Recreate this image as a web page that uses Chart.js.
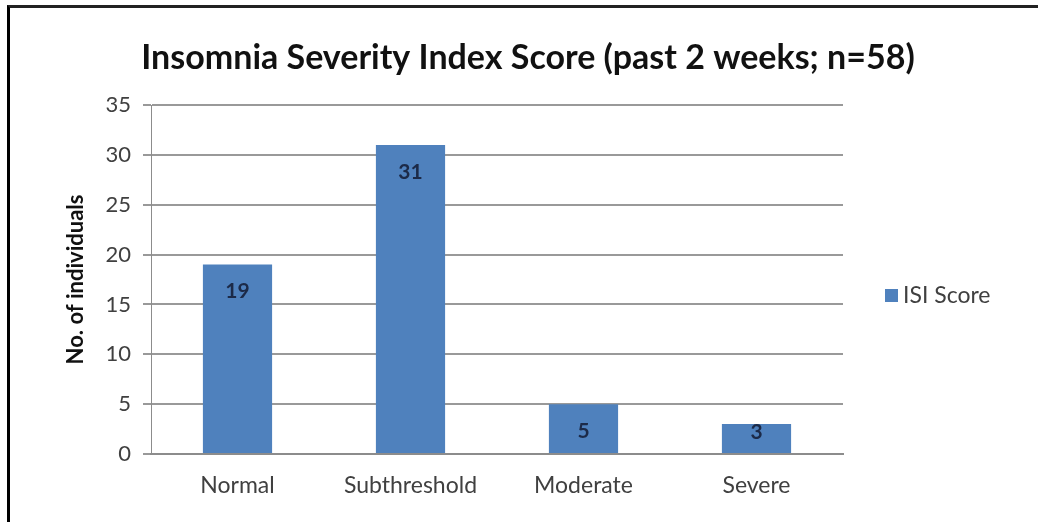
<!DOCTYPE html>
<html>
<head>
<meta charset="utf-8">
<script src="https://cdn.jsdelivr.net/npm/chart.js@4"></script>
<style>
  html, body { margin: 0; padding: 0; background: #fff; }
  #wrap { position: relative; width: 1038px; height: 522px; overflow: hidden; }
  #frame { position: absolute; left: 7px; top: 5px; right: -10px; bottom: -10px;
           border-top: 3px solid #222; border-left: 3px solid #000; pointer-events: none; }
  canvas { position: absolute; left: 0; top: 0; }
</style>
</head>
<body>
<div id="wrap">
  <canvas id="c" width="1038" height="522"></canvas>
  <div id="frame"></div>
</div>
<script>
const chartTitle = 'Insomnia Severity Index Score (past 2 weeks; n=58)';
const categories = ['Normal', 'Subthreshold', 'Moderate', 'Severe'];
const seriesName = 'ISI Score';
const isiScores = [19, 31, 5, 3];
const yTicks = [0, 5, 10, 15, 20, 25, 30, 35];
const yAxisTitle = 'No. of individuals';

const FONT = 'Lato, "Open Sans", sans-serif';
const BAR = '#4f81bd';

const overlay = {
  id: 'overlay',
  afterDatasetsDraw(chart) {
    const ctx = chart.ctx;
    const meta = chart.getDatasetMeta(0);
    const base = chart.scales.y.getPixelForValue(0);
    ctx.save();
    ctx.font = 'bold 21px ' + FONT;
    ctx.fillStyle = '#1c2a48';
    ctx.textAlign = 'center';
    ctx.textBaseline = 'middle';
    meta.data.forEach((bar, i) => {
      const y = Math.min(bar.y + 27, base - 22);
      ctx.fillText(String(chart.data.datasets[0].data[i]), bar.x, y);
    });
    ctx.restore();
  },
  afterDraw(chart) {
    const ctx = chart.ctx;
    ctx.save();
    // title
    ctx.font = 'bold 34px ' + FONT;
    ctx.fillStyle = '#111';
    ctx.textAlign = 'center';
    ctx.textBaseline = 'middle';
    ctx.fillText(chartTitle, 528, 58);
    // legend
    const ds = chart.data.datasets[0];
    ctx.fillStyle = ds.backgroundColor;
    ctx.fillRect(885, 289, 13, 13);
    ctx.font = '23px ' + FONT;
    ctx.fillStyle = '#404040';
    ctx.textAlign = 'left';
    ctx.fillText(ds.label, 903, 296);
    ctx.restore();
  }
};

new Chart(document.getElementById('c'), {
  type: 'bar',
  data: {
    labels: categories,
    datasets: [{
      label: seriesName,
      data: isiScores,
      backgroundColor: BAR,
      borderWidth: 0,
      barPercentage: 0.4,
      categoryPercentage: 1.0
    }]
  },
  options: {
    responsive: false,
    animation: false,
    events: [],
    layout: { padding: { top: 105, right: 195, left: 0, bottom: 0 } },
    plugins: { legend: { display: false }, title: { display: false }, tooltip: { enabled: false } },
    scales: {
      x: {
        grid: { display: false, drawTicks: false },
        border: { display: true, color: '#8c8c8c', width: 2 },
        ticks: { color: '#404040', font: { family: FONT, size: 23 }, padding: 18 },
        afterFit(s) { s.height = 68; }
      },
      y: {
        min: 0, max: 35,
        afterBuildTicks(s) { s.ticks = yTicks.map(v => ({ value: v })); },
        grid: { color: '#999999', lineWidth: 2, tickLength: 8, drawTicks: true },
        border: { display: true, color: '#8c8c8c', width: 1 },
        ticks: { color: '#404040', font: { family: FONT, size: 22 }, padding: 12 },
        title: { display: true, text: yAxisTitle, color: '#111',
                 font: { family: FONT, size: 22, weight: 'bold' }, padding: { top: 63, bottom: 0 } },
        afterFit(s) { s.width = 151; }
      }
    }
  },
  plugins: [overlay]
});
</script>
</body>
</html>
